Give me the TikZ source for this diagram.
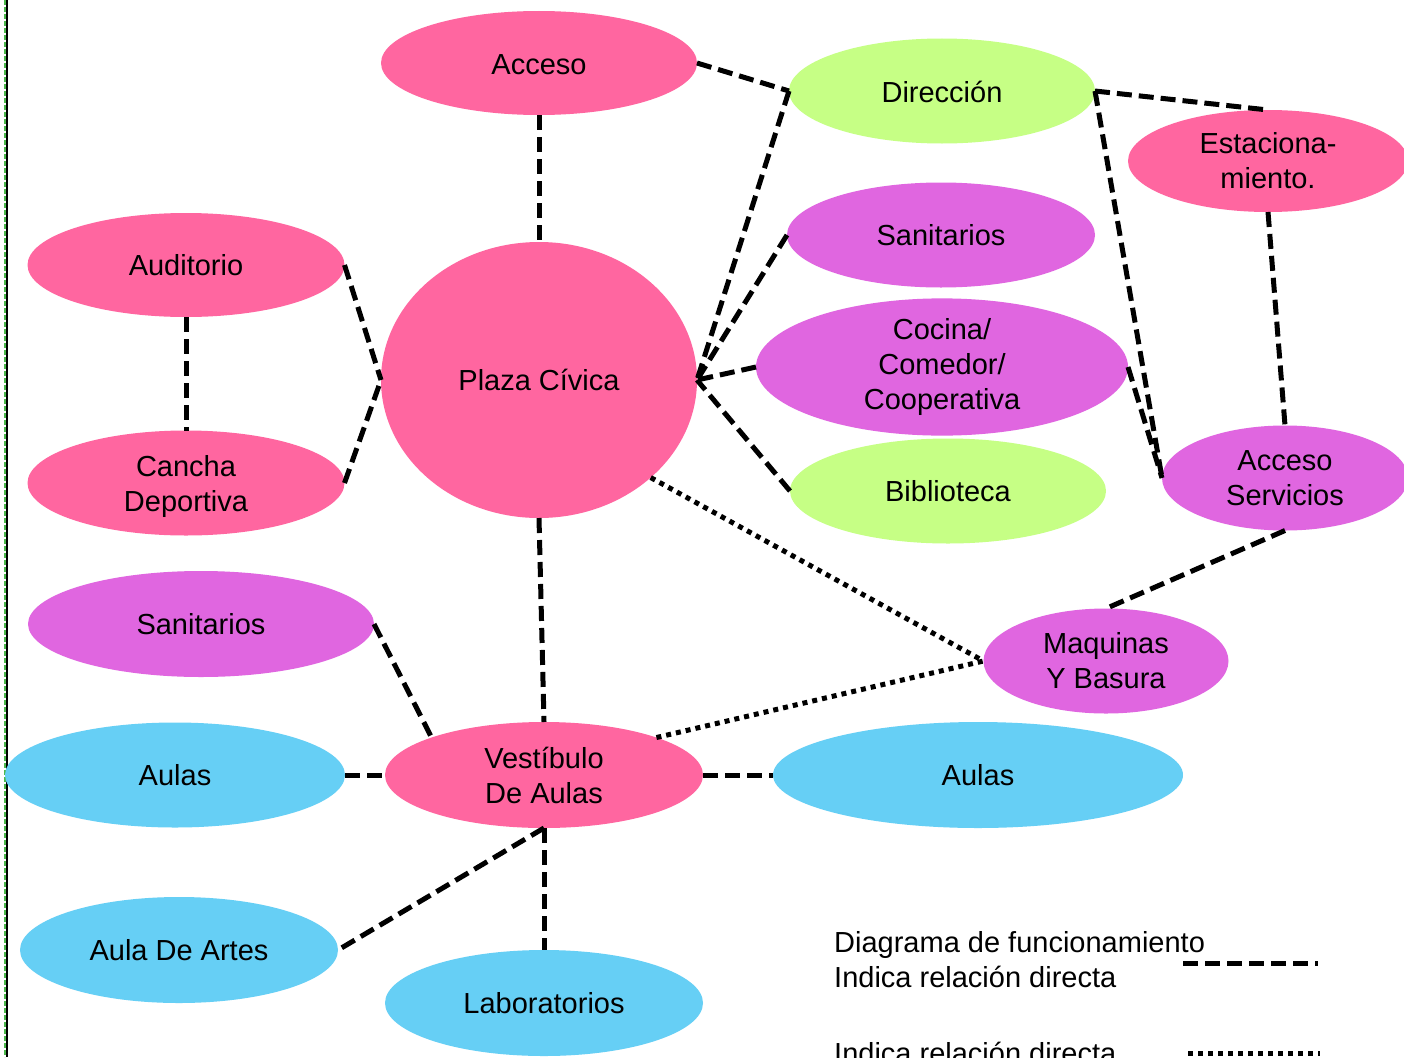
\documentclass[tikz,border=0pt]{standalone}
\usepackage{fontspec}
\setmainfont{Liberation Sans}
\usetikzlibrary{shapes.geometric}
\definecolor{cpink}{HTML}{FF66A0}
\definecolor{cgreen}{HTML}{C6FF85}
\definecolor{cpurple}{HTML}{E066E0}
\definecolor{cblue}{HTML}{66CFF5}
\newcommand{\topstrut}{\rule{0pt}{27.5pt}}
\tikzset{
  blob/.style={ellipse, inner sep=0pt, outer sep=0pt, align=center,
    font=\fontsize{29}{35}\selectfont},
  pinkb/.style={blob, fill=cpink},
  greenb/.style={blob, fill=cgreen},
  purpleb/.style={blob, fill=cpurple},
  blueb/.style={blob, fill=cblue},
  rel/.style={line width=5pt, dash pattern=on 15pt off 7pt},
  reldot/.style={line width=5pt, dash pattern=on 5pt off 5pt},
  legendtxt/.style={anchor=base west, inner sep=0pt, font=\fontsize{29}{35}\selectfont}
}
\begin{document}
\begin{tikzpicture}[x=1pt,y=-1pt]
\useasboundingbox (0,0) rectangle (1404,1057);
\fill[white] (0,0) rectangle (1404,1057);
% left frame lines
\coordinate (ftop) at (7,0);
\coordinate (fbot) at (7,1057);
\coordinate (gtop) at (5,0);
\coordinate (gbot) at (5,1057);
\draw[black, line width=1.3pt] (ftop) -- (fbot);
\draw[green!60!black!70, line width=2pt, dash pattern=on 5pt off 2pt] (gtop) -- (gbot);

% nodes
\node[pinkb, minimum width=316pt, minimum height=104pt] (acceso) at (539,63) {\rule{0pt}{23pt}Acceso};
\node[greenb, minimum width=306pt, minimum height=105pt] (direccion) at (942,91) {\rule{0pt}{23pt}Dirección};
\node[pinkb, minimum width=280pt, minimum height=102pt] (estac) at (1268,161) {Estaciona-\\miento.};
\node[purpleb, minimum width=308pt, minimum height=105pt] (sanr) at (941,235) {Sanitarios};
\node[purpleb, minimum width=372pt, minimum height=136pt] (cocina) at (942,367) {Cocina/\\Comedor/\\Cooperativa};
\node[greenb, minimum width=316pt, minimum height=105pt] (biblio) at (948,491) {Biblioteca};
\node[purpleb, minimum width=246pt, minimum height=105pt] (accserv) at (1285,478) {Acceso\\Servicios};
\node[pinkb, minimum width=317pt, minimum height=104pt] (audit) at (186,265) {Auditorio};
\node[pinkb, minimum width=317pt, minimum height=105pt] (cancha) at (186,483) {\topstrut Cancha\\Deportiva};
\node[pinkb, minimum width=316pt, minimum height=276pt] (plaza) at (539,380) {Plaza Cívica};
\node[purpleb, minimum width=346pt, minimum height=106pt] (sanl) at (201,624) {Sanitarios};
\node[purpleb, minimum width=245pt, minimum height=105pt] (maq) at (1106,661) {Maquinas\\Y Basura};
\node[blueb, minimum width=340pt, minimum height=105pt] (aulasl) at (175,775) {Aulas};
\node[pinkb, minimum width=318pt, minimum height=106pt] (vest) at (544,775) {Vestíbulo\\De Aulas};
\node[blueb, minimum width=410pt, minimum height=106pt] (aulasr) at (978,775) {Aulas};
\node[blueb, minimum width=318pt, minimum height=106pt] (artes) at (179,950) {Aula De Artes};
\node[blueb, minimum width=318pt, minimum height=106pt] (lab) at (544,1003) {Laboratorios};

% dashed relations
\draw[rel] (acceso.south) -- (plaza.north);
\draw[rel] (acceso.east) -- (direccion.west);
\draw[rel] (direccion.west) -- (plaza.east);
\draw[rel] (sanr.west) -- (plaza.east);
\draw[rel] (cocina.west) -- (plaza.east);
\draw[rel] (biblio.west) -- (plaza.east);
\draw[rel] (direccion.east) -- (estac.north);
\draw[rel] (direccion.east) -- (accserv.west);
\draw[rel] (cocina.east) -- (accserv.west);
\draw[rel] (estac.south) -- (accserv.north);
\draw[rel] (accserv.south) -- (maq.north);
\draw[rel] (audit.east) -- (plaza.west);
\draw[rel] (cancha.east) -- (plaza.west);
\draw[rel] (audit.south) -- (cancha.north);
\draw[rel] (plaza.south) -- (vest.north);
\draw[rel] (sanl.east) -- (vest.north west);
\draw[rel] (aulasl.east) -- (vest.west);
\draw[rel] (vest.east) -- (aulasr.west);
\draw[rel] (vest.south) -- (artes.east);
\draw[rel] (vest.south) -- (lab.north);
% dotted relations
\draw[reldot] (plaza.south east) -- (maq.west);
\draw[reldot] (vest.north east) -- (maq.west);

% legend
\node[legendtxt] (lg1) at (834,952) {Diagrama de funcionamiento};
\node[legendtxt] (lg2) at (834,987) {Indica relación directa};
\node[legendtxt] (lg3) at (834,1063) {Indica relación directa};
\coordinate (ld1) at (1183,963);
\coordinate (ld2) at (1318,963);
\coordinate (lt1) at (1188,1053);
\coordinate (lt2) at (1320,1053);
\draw[rel] (ld1) -- (ld2);
\draw[reldot] (lt1) -- (lt2);
\end{tikzpicture}
\end{document}
